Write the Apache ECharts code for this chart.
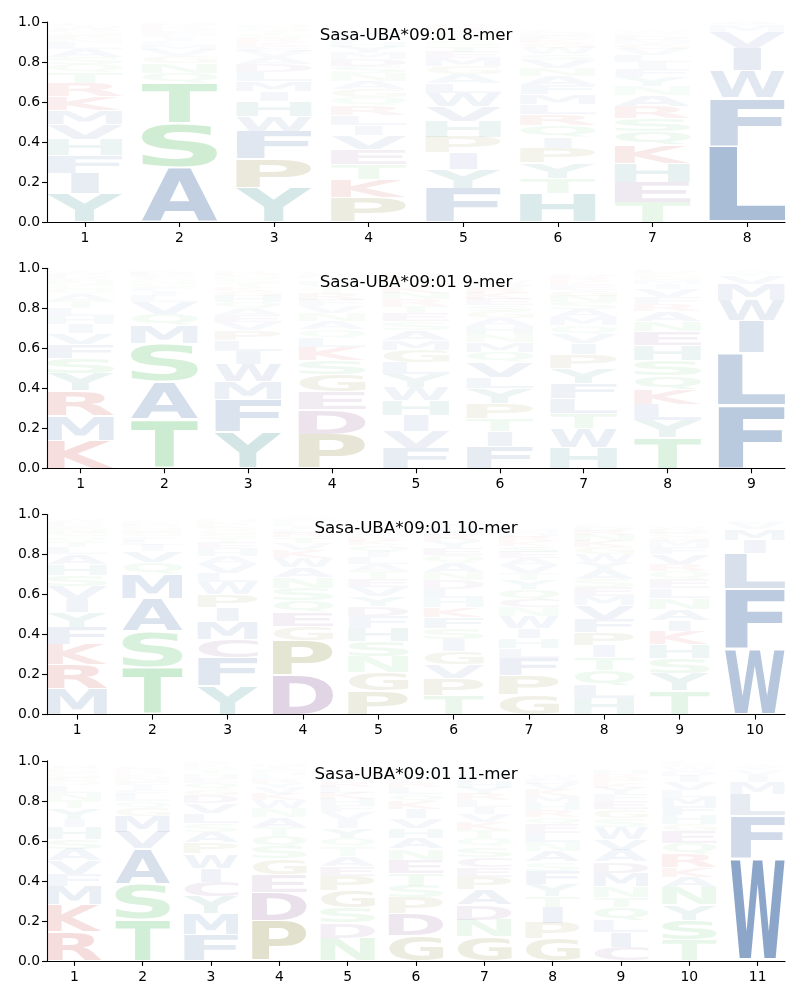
<!DOCTYPE html>
<html>
<head>
<meta charset="utf-8">
<script src="https://cdn.jsdelivr.net/npm/echarts@6/dist/echarts.min.js"></script>
<style>html,body{margin:0;padding:0;background:#fff}#c{width:800px;height:1000px}</style>
</head>
<body>
<div id="c"></div>
<script>
// ---------- data (bottom-to-top stacks per position) ----------
const titles = ["Sasa-UBA*09:01 8-mer", "Sasa-UBA*09:01 9-mer", "Sasa-UBA*09:01 10-mer", "Sasa-UBA*09:01 11-mer"];
const yTicks = [0, 0.2, 0.4, 0.6, 0.8, 1.0];

const letters8 = ["YIFHVMKRTQSALNEGDWC", "ASTQNGVMLIFEDKRHY", "YPFWHIMLDAVEKRSTGNQC", "PKTEVILRQGANSDMYHFWC",
  "FYIPHVWLAGMETSQNKRD", "HTYPIQRLMFANVSWGKEDC", "TEHKQSRANYFILVGMDPW", "LFWIVMYA"];
const heights8 = [
  [.145,.10,.09,.08,.075,.07,.07,.065,.055,.04,.035,.04,.03,.02,.02,.015,.01,.02,.01],
  [.275,.22,.20,.05,.05,.035,.03,.025,.02,.02,.015,.015,.01,.01,.01,.01,.005],
  [.17,.145,.14,.075,.075,.05,.05,.045,.04,.035,.03,.025,.02,.02,.02,.015,.015,.01,.01,.005],
  [.125,.09,.075,.075,.07,.05,.05,.045,.045,.04,.04,.04,.035,.035,.03,.03,.025,.025,.02,.015],
  [.17,.095,.08,.08,.08,.075,.065,.05,.045,.04,.04,.03,.03,.025,.02,.02,.015,.015,.01],
  [.145,.075,.075,.075,.055,.06,.055,.05,.05,.045,.045,.04,.04,.03,.03,.025,.02,.02,.015,.01],
  [.10,.10,.095,.09,.07,.065,.06,.055,.045,.045,.04,.035,.035,.03,.025,.02,.02,.015,.01],
  [.38,.24,.135,.115,.08,.03,.01,.01]
];

const letters9 = ["KMRYSFVIHLTAQGNEDPW", "TASMQVLIFGNCEDK", "YFMWILPVEAQHGKTSNDR", "PDEGSKLQANVFRTYHIMW",
  "FVIHWYLGMASETRNKQPD", "FITPYLVQMNHAGSEKRDWC", "HWTLFYPIVQMASNGEKRD", "TYLKQSHENARFVIMGPD", "FLIWMVYA"];
const heights9 = [
  [.14,.125,.125,.085,.075,.07,.055,.045,.04,.04,.035,.035,.025,.02,.02,.015,.01,.01,.01],
  [.245,.19,.19,.09,.055,.06,.03,.025,.02,.02,.015,.015,.01,.01,.01],
  [.18,.165,.09,.085,.065,.055,.05,.04,.035,.035,.03,.03,.025,.02,.02,.02,.015,.01,.01],
  [.17,.125,.09,.085,.07,.065,.045,.045,.04,.04,.035,.03,.03,.025,.02,.02,.015,.015,.01],
  [.10,.085,.08,.075,.065,.065,.06,.06,.05,.05,.045,.04,.035,.035,.03,.03,.025,.025,.02],
  [.11,.075,.065,.075,.075,.055,.075,.05,.05,.04,.04,.04,.035,.03,.03,.03,.025,.02,.02,.01],
  [.105,.095,.075,.075,.075,.075,.07,.055,.045,.045,.04,.04,.035,.03,.03,.025,.02,.02,.015],
  [.155,.085,.08,.075,.07,.075,.075,.07,.05,.05,.035,.035,.04,.025,.02,.02,.015,.01],
  [.315,.26,.165,.10,.08,.04,.015,.01]
];

const letters10 = ["MRKFYIVSHALTQGNEDPW", "TSAMQVILFGENDKC", "YFCMIPWLVAHETSGQKRN", "DPGEQSNAWKVTRLIHFMY",
  "PGNSHFDYVETALIQKRMWC", "TPVGISFKHLDNAQEYRMWC", "GPFLHIWNCQYTVAESKRDM", "HLQTIPFVMESAYWGKNRDC",
  "TYSHKIANLEQRVFMGPDW", "WFLIMVY"];
const heights10 = [
  [.13,.12,.10,.085,.075,.065,.065,.055,.055,.05,.035,.03,.025,.02,.02,.015,.01,.01,.01],
  [.235,.18,.165,.125,.055,.055,.03,.025,.02,.02,.015,.015,.01,.01,.01],
  [.145,.14,.09,.09,.07,.065,.06,.045,.045,.04,.035,.03,.025,.02,.02,.015,.015,.015,.01],
  [.195,.175,.07,.07,.06,.06,.055,.05,.045,.04,.035,.03,.025,.02,.015,.015,.01,.01,.01],
  [.12,.09,.08,.075,.065,.06,.05,.05,.045,.04,.04,.035,.035,.03,.03,.025,.02,.02,.015,.01],
  [.095,.085,.07,.065,.06,.055,.055,.05,.045,.045,.045,.04,.045,.04,.035,.035,.03,.03,.025,.015],
  [.10,.095,.085,.05,.05,.05,.06,.045,.04,.05,.045,.035,.04,.035,.03,.03,.025,.025,.02,.02],
  [.08,.065,.075,.065,.06,.065,.065,.07,.045,.045,.04,.045,.04,.04,.035,.03,.03,.025,.02,.01],
  [.12,.085,.075,.07,.065,.055,.055,.055,.05,.045,.04,.035,.05,.035,.03,.025,.02,.02,.015],
  [.33,.30,.175,.065,.055,.03,.015]
];

const letters11 = ["RKMFVASHIYTNLQEGDPW", "TSAVMGQLFIENKDRC", "FMYCIWPASLVDGQEHTNKR", "PDEGSQTANWKVYRLHFIM",
  "NDSGPEATQYIVFHKLRMWC", "GDPSTENAHVIKQLRFYMW", "GNDAPECSQTKVILRYHFMW", "GPITYFSANLEQRHMKVDW",
  "CILQTNMDAVWSGEFYKPRH", "TSYNAKRQEGHFMLVIDWPC", "WFLMIVYA"];
const heights11 = [
  [.145,.135,.095,.06,.065,.06,.05,.06,.04,.055,.04,.035,.035,.025,.02,.02,.015,.01,.01],
  [.21,.175,.175,.085,.08,.04,.035,.03,.025,.025,.02,.02,.015,.015,.01,.01],
  [.13,.105,.085,.075,.07,.07,.055,.055,.045,.05,.05,.04,.03,.03,.025,.02,.02,.015,.015,.01],
  [.20,.14,.09,.08,.06,.055,.045,.05,.045,.04,.03,.03,.025,.02,.02,.015,.015,.01,.01],
  [.115,.075,.075,.085,.075,.05,.05,.045,.045,.05,.04,.04,.035,.03,.03,.03,.025,.02,.015,.01],
  [.125,.11,.08,.06,.065,.065,.055,.055,.05,.05,.045,.04,.035,.035,.025,.025,.02,.02,.015],
  [.12,.085,.075,.075,.065,.05,.05,.05,.045,.04,.04,.04,.035,.035,.03,.03,.03,.025,.02,.01],
  [.11,.08,.08,.055,.06,.065,.045,.055,.045,.045,.045,.035,.035,.035,.035,.03,.03,.025,.02],
  [.07,.075,.06,.065,.05,.055,.065,.055,.06,.055,.06,.045,.045,.04,.035,.03,.025,.025,.02,.02],
  [.105,.10,.075,.085,.055,.05,.065,.055,.06,.035,.045,.045,.045,.035,.04,.03,.025,.02,.015,.01],
  [.515,.21,.11,.06,.035,.025,.015,.01]
];

// residue colour groups
const groupColors = {
  AFILMVW: [32, 82, 150],
  STNQ: [40, 175, 60],
  DEC: [100, 35, 115],
  PG: [110, 105, 10],
  KR: [190, 20, 20],
  HY: [10, 110, 110]
};

// ---------- rendering ----------
const panels = [
  {letters: letters8, heights: heights8},
  {letters: letters9, heights: heights9},
  {letters: letters10, heights: heights10},
  {letters: letters11, heights: heights11}
];

const FONT = 'bold 100px "DejaVu Sans"';
const cv = document.createElement('canvas');
const ctx = cv.getContext('2d');
ctx.font = FONT; ctx.textBaseline = 'middle'; ctx.textAlign = 'left';
const metricCache = {};
function metrics(ch) {
  if (!metricCache[ch]) {
    const m = ctx.measureText(ch);
    metricCache[ch] = {L: m.actualBoundingBoxLeft, R: m.actualBoundingBoxRight,
      A: m.actualBoundingBoxAscent, D: m.actualBoundingBoxDescent};
  }
  return metricCache[ch];
}
function colorOf(ch, h) {
  let c = [0, 0, 0];
  for (const k in groupColors) if (k.indexOf(ch) >= 0) c = groupColors[k];
  const a = Math.min(1, h);
  return 'rgba(' + c[0] + ',' + c[1] + ',' + c[2] + ',' + a.toFixed(3) + ')';
}

const WIDTH = 0.8, VPAD = 0.05;
const FS = 13.9;
const grids = [], xAxes = [], yAxes = [], series = [], graphics = [];
const gLeft = 47, gRight = 785, gH = 200;

panels.forEach((p, gi) => {
  const n = p.letters.length;
  const top = 22 + gi * 246.3;
  grids.push({left: gLeft, width: gRight - gLeft, top: top, height: gH});
  const ticks = [];
  for (let i = 1; i <= n; i++) ticks.push(i);
  xAxes.push({
    type: 'value', gridIndex: gi, min: 0.6, max: n + 0.4,
    axisLine: {show: true, onZero: false, lineStyle: {color: '#000', width: 1.1}},
    axisTick: {show: true, customValues: ticks, length: 5, lineStyle: {color: '#000', width: 1.1}},
    axisLabel: {customValues: ticks, margin: 9, color: '#000', fontSize: FS, fontFamily: 'DejaVu Sans'},
    splitLine: {show: false}
  });
  yAxes.push({
    type: 'value', gridIndex: gi, min: 0, max: 1, interval: 0.2,
    axisLine: {show: true, lineStyle: {color: '#000', width: 1.1}},
    axisTick: {show: true, length: 5, lineStyle: {color: '#000', width: 1.1}},
    axisLabel: {margin: 7, color: '#000', fontSize: FS, fontFamily: 'DejaVu Sans',
      formatter: v => v.toFixed(1)},
    splitLine: {show: false}
  });
  const items = [];
  p.letters.forEach((str, pi) => {
    let y = 0;
    for (let k = 0; k < str.length; k++) {
      const h = p.heights[pi][k];
      items.push({x: pi + 1, y0: y, y1: y + h, ch: str[k], h: h});
      y += h;
    }
  });
  const eM = metrics('E');
  const eW = eM.L + eM.R;
  series.push({
    type: 'custom', xAxisIndex: gi, yAxisIndex: gi, clip: false, silent: true,
    data: items.map(it => [it.x, it.y0, it.y1]),
    encode: {x: 0, y: [1, 2]},
    renderItem: function (params, api) {
      const it = items[params.dataIndex];
      const pad = (it.y1 - it.y0) * VPAD / 2;
      const p0 = api.coord([it.x - WIDTH / 2, it.y0 + pad]);
      const p1 = api.coord([it.x + WIDTH / 2, it.y1 - pad]);
      const boxW = p1[0] - p0[0];
      const boxH = p0[1] - p1[1];
      if (boxH <= 0.05) return null;
      const m = metrics(it.ch);
      const gw = m.L + m.R, gh = m.A + m.D;
      const sx = Math.min(boxW / gw, boxW / eW);
      const sy = boxH / gh;
      const cx = (p0[0] + p1[0]) / 2;
      return {
        type: 'text',
        x: cx - gw * sx / 2 + m.L * sx,
        y: p1[1] + m.A * sy,
        scaleX: sx, scaleY: sy,
        style: {text: it.ch, x: 0, y: 0, font: FONT, fill: colorOf(it.ch, it.h),
          align: 'left', verticalAlign: 'middle'}
      };
    }
  });
  graphics.push({
    type: 'text', x: (gLeft + gRight) / 2, y: top + 14, silent: true,
    style: {text: titles[gi], font: '16.7px "DejaVu Sans"', fill: '#000', align: 'center', verticalAlign: 'middle'}
  });
});

const chart = echarts.init(document.getElementById('c'), null, {renderer: 'canvas'});
chart.setOption({
  animation: false,
  backgroundColor: '#fff',
  grid: grids, xAxis: xAxes, yAxis: yAxes, series: series, graphic: graphics
});
</script>
</body>
</html>
